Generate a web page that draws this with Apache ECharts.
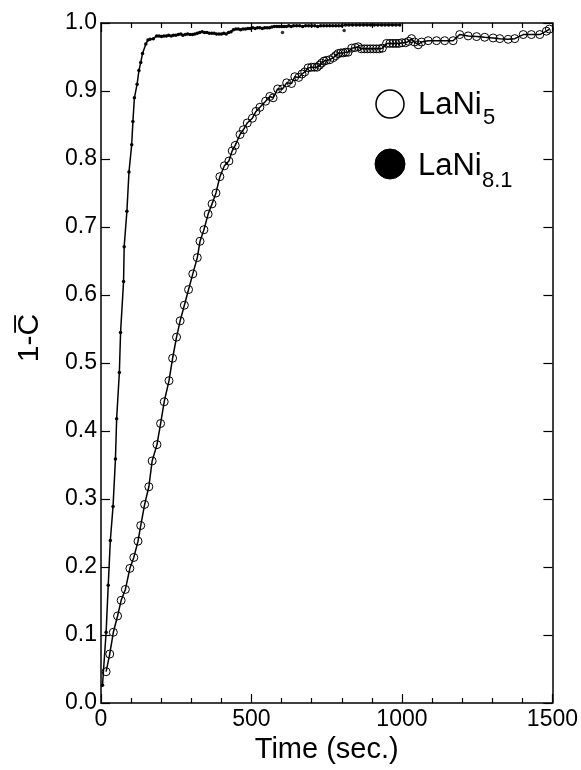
<!DOCTYPE html>
<html>
<head>
<meta charset="utf-8">
<script src="https://cdn.jsdelivr.net/npm/echarts@6/dist/echarts.min.js"></script>
<style>
    html, body { margin: 0; padding: 0; background: #fff; }
    #chart { width: 581px; height: 770px; }
</style>
</head>
<body>
<div id="chart"></div>
<script>
// time (sec.) / 1-C values
var lani5 = [
    [17,0.046],[29,0.072],[41,0.104],[55,0.128],[67,0.151],[81,0.167],[96,0.198],[109,0.214],
    [123,0.238],[132,0.261],[145,0.292],[159,0.318],[170,0.356],[186,0.380],[198,0.411],[210,0.443],
    [226,0.474],[238,0.507],[251,0.538],[263,0.562],[277,0.585],[291,0.608],[305,0.631],[320,0.655],
    [329,0.679],[342,0.696],[356,0.719],[369,0.734],[382,0.750],[395,0.774],[410,0.790],[425,0.797],
    [436,0.812],[446,0.820],[462,0.836],[473,0.843],[486,0.853],[503,0.860],[515,0.870],[528,0.876],
    [547,0.885],[561,0.892],[572,0.890],[587,0.903],[603,0.903],[617,0.912],[633,0.911],[644,0.921],
    [657,0.920],[668,0.925],[677,0.928],[688,0.934],[700,0.935],[709,0.935],[718,0.935],[726,0.938],
    [733,0.941],[741,0.944],[749,0.945],[760,0.946],[772,0.949],[780,0.952],[788,0.955],[797,0.956],
    [805,0.956],[813,0.957],[821,0.957],[833,0.963],[845,0.964],[855,0.965],[865,0.962],[875,0.962],
    [885,0.962],[895,0.962],[905,0.962],[915,0.962],[925,0.962],[935,0.963],[949,0.970],[960,0.970],
    [970,0.970],[980,0.970],[990,0.970],[1000,0.971],[1012,0.971],[1022,0.973],[1032,0.977],[1042,0.972],
    [1054,0.968],[1065,0.972],[1087,0.974],[1115,0.974],[1142,0.974],[1170,0.974],[1192,0.983],[1220,0.981],
    [1248,0.980],[1275,0.979],[1303,0.978],[1325,0.977],[1353,0.976],[1375,0.977],[1403,0.983],[1430,0.983],
    [1458,0.983],[1480,0.988],[1490,0.991]
];

var lani81 = [
    [5,0.026],[17,0.104],[24,0.173],[31,0.239],[40,0.289],[48,0.359],[52,0.418],[61,0.486],
    [65,0.545],[75,0.620],[77,0.671],[86,0.723],[93,0.781],[102,0.821],[106,0.855],[111,0.890],
    [120,0.910],[126,0.930],[132,0.942],[138,0.955],[149,0.969],[156,0.975],[163,0.976],[174,0.977],
    [185,0.981],[193,0.981],[201,0.980],[209,0.981],[217,0.981],[225,0.982],[233,0.981],[241,0.982],
    [249,0.982],[257,0.983],[265,0.984],[272,0.982],[280,0.983],[288,0.984],[296,0.983],[304,0.983],
    [312,0.984],[320,0.985],[328,0.986],[336,0.987],[344,0.986],[352,0.986],[360,0.985],[368,0.985],
    [376,0.985],[384,0.984],[392,0.984],[400,0.984],[408,0.985],[416,0.984],[424,0.986],[432,0.987],
    [440,0.990],[448,0.991],[456,0.991],[464,0.990],[472,0.991],[480,0.991],[488,0.992],[496,0.992],
    [504,0.993],[512,0.992],[520,0.993],[528,0.993],[536,0.992],[544,0.993],[552,0.993],[560,0.993],
    [568,0.994],[576,0.995],[584,0.995],[592,0.995],[600,0.995],[608,0.995],[616,0.995],[624,0.996],
    [632,0.995],[640,0.996],[650,0.996],[660,0.996],[670,0.995],[680,0.996],[690,0.996],[700,0.996],
    [710,0.996],[720,0.995],[730,0.996],[740,0.996],[750,0.996],[760,0.996],[770,0.996],[780,0.996],
    [790,0.996],[800,0.996],[812,0.997],[824,0.997],[836,0.997],[848,0.997],[860,0.997],[872,0.997],
    [884,0.997],[896,0.997],[908,0.997],[920,0.997],[932,0.997],[944,0.997],[956,0.997],[968,0.997],
    [980,0.997],[993,0.997]
];

var lani81Outliers = [[603,0.986],[808,0.989]];

var xTicks = [0, 500, 1000, 1500];
var yTicks = [0.0, 0.1, 0.2, 0.3, 0.4, 0.5, 0.6, 0.7, 0.8, 0.9, 1.0];

var FONT = "Liberation Sans";

function axisX(pos, showLabel) {
    return {
        type: "value",
        position: pos,
        min: xTicks[0],
        max: xTicks[xTicks.length - 1],
        interval: 500,
        axisLine: { show: true, onZero: false, lineStyle: { color: "#000", width: 1.5 } },
        axisTick: { show: true, inside: true, length: 9, lineStyle: { color: "#000", width: 1.2 } },
        minorTick: { show: true, splitNumber: 5, length: 5, lineStyle: { color: "#000", width: 1.2 } },
        splitLine: { show: false },
        axisLabel: {
            show: showLabel, color: "#000", fontFamily: FONT, fontSize: 23, margin: 5,
            formatter: function (v) { return String(v); }
        },
        name: showLabel ? "Time (sec.)" : "",
        nameLocation: "middle",
        nameGap: 31,
        nameTextStyle: { color: "#000", fontFamily: FONT, fontSize: 29, verticalAlign: "top" }
    };
}

function axisY(pos, showLabel) {
    return {
        type: "value",
        position: pos,
        min: yTicks[0],
        max: yTicks[yTicks.length - 1],
        interval: 0.1,
        axisLine: { show: true, onZero: false, lineStyle: { color: "#000", width: 1.5 } },
        axisTick: { show: true, inside: true, length: 9, lineStyle: { color: "#000", width: 1.2 } },
        splitLine: { show: false },
        axisLabel: {
            show: showLabel, color: "#000", fontFamily: FONT, fontSize: 23, margin: 4,
            formatter: function (v) { return v.toFixed(1); }
        }
    };
}

function legendItems() {
    var items = [];
    items.push({ type: "circle", shape: { cx: 390, cy: 104, r: 14 },
        style: { fill: "#fff", stroke: "#000", lineWidth: 1.5 } });
    items.push({ type: "text", x: 418, y: 90, style: { text: "LaNi", font: "31px " + FONT, fill: "#000", verticalAlign: "top" } });
    items.push({ type: "text", x: 483, y: 107, style: { text: "5", font: "22px " + FONT, fill: "#000", verticalAlign: "top" } });
    items.push({ type: "circle", shape: { cx: 390, cy: 164, r: 15 },
        style: { fill: "#000", stroke: "#000", lineWidth: 1 } });
    items.push({ type: "text", x: 418, y: 151, style: { text: "LaNi", font: "31px " + FONT, fill: "#000", verticalAlign: "top" } });
    items.push({ type: "text", x: 482, y: 170, style: { text: "8.1", font: "22px " + FONT, fill: "#000", verticalAlign: "top" } });
    // y axis title, rotated
    items.push({ type: "text", x: 15, y: 338, rotation: Math.PI / 2,
        style: { text: "1-C\u0305", font: "30px " + FONT, fill: "#000", align: "center", verticalAlign: "top" } });
    return items;
}

function init() {
    var chart = echarts.init(document.getElementById("chart"), null, { renderer: "canvas" });
    var option = {
        backgroundColor: "#fff",
        animation: false,
        grid: { left: 101, right: 28, top: 23, bottom: 67, containLabel: false },
        xAxis: [axisX("bottom", true), axisX("top", false)],
        yAxis: [axisY("left", true), axisY("right", false)],
        graphic: legendItems(),
        series: [
            {
                name: "LaNi5",
                type: "line",
                data: lani5,
                symbol: "circle",
                symbolSize: 8,
                showAllSymbol: true,
                lineStyle: { color: "#000", width: 1.5 },
                itemStyle: { color: "rgba(0,0,0,0)", borderColor: "#000", borderWidth: 1 },
                z: 3
            },
            {
                name: "LaNi8.1",
                type: "line",
                data: lani81,
                symbol: "circle",
                symbolSize: 3.5,
                showAllSymbol: true,
                lineStyle: { color: "#000", width: 1.5 },
                itemStyle: { color: "#000", borderWidth: 0 },
                z: 3
            },
            {
                name: "LaNi8.1 outliers",
                type: "scatter",
                data: lani81Outliers,
                symbol: "circle",
                symbolSize: 3.5,
                itemStyle: { color: "#000" }
            }
        ]
    };
    chart.setOption(option);
}

window.onload = init;
</script>
</body>
</html>
